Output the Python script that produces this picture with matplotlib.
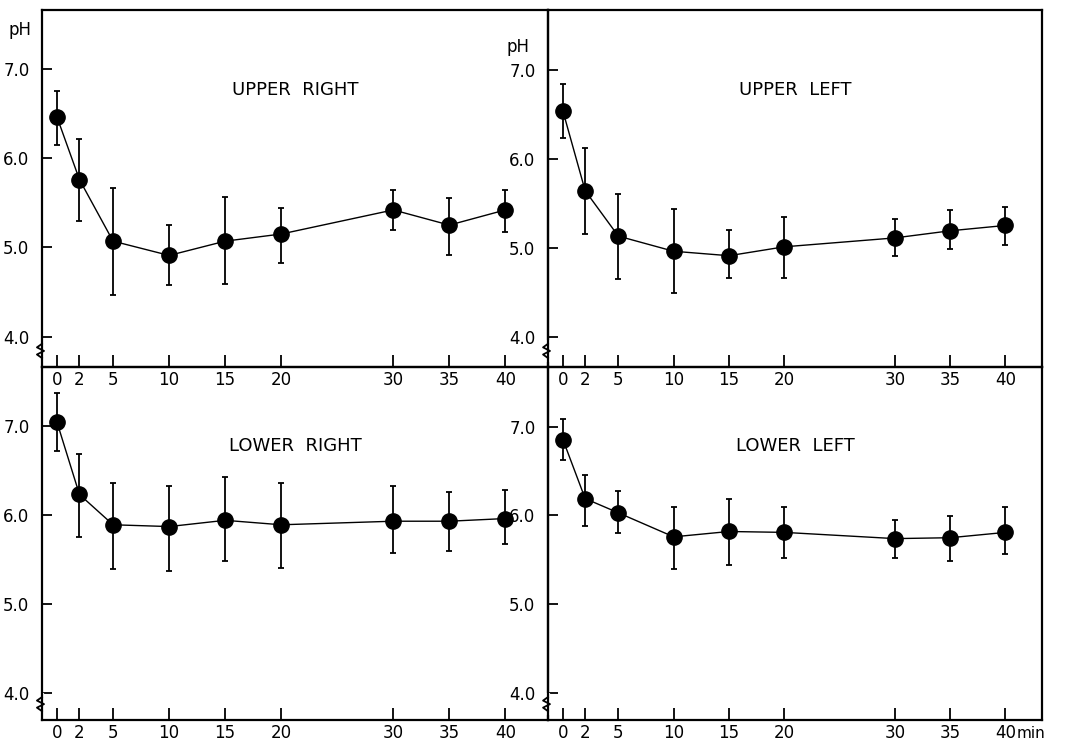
import numpy as np
from matplotlib import pyplot as plt

minutes = [0, 2, 5, 10, 15, 20, 30, 35, 40]

upper_right_ph = [6.46, 5.76, 5.07, 4.91, 5.07, 5.15, 5.42, 5.25, 5.42]
upper_right_hi = [6.75, 6.22, 5.67, 5.25, 5.57, 5.44, 5.64, 5.55, 5.64]
upper_right_lo = [6.15, 5.30, 4.47, 4.58, 4.59, 4.82, 5.20, 4.91, 5.17]

upper_left_ph = [6.53, 5.64, 5.13, 4.96, 4.91, 5.01, 5.11, 5.19, 5.25]
upper_left_hi = [6.84, 6.12, 5.60, 5.43, 5.20, 5.35, 5.32, 5.42, 5.46]
upper_left_lo = [6.23, 5.15, 4.65, 4.49, 4.66, 4.66, 4.91, 4.98, 5.03]

lower_right_ph = [7.04, 6.23, 5.89, 5.87, 5.94, 5.89, 5.93, 5.93, 5.96]
lower_right_hi = [7.37, 6.68, 6.36, 6.33, 6.43, 6.36, 6.33, 6.26, 6.28]
lower_right_lo = [6.72, 5.75, 5.39, 5.37, 5.48, 5.41, 5.57, 5.60, 5.68]

lower_left_ph = [6.85, 6.19, 6.03, 5.76, 5.82, 5.81, 5.74, 5.75, 5.81]
lower_left_hi = [7.09, 6.46, 6.27, 6.09, 6.19, 6.10, 5.95, 5.99, 6.09]
lower_left_lo = [6.62, 5.88, 5.80, 5.40, 5.44, 5.52, 5.52, 5.49, 5.57]

yticks = [4.0, 5.0, 6.0, 7.0]

W, H = 1074, 747
fig = plt.figure(figsize=(W/100, H/100), dpi=100)

def box(x0, y0, x1, y1):
    return [x0/W, 1-y1/H, (x1-x0)/W, (y1-y0)/H]

panels = [
    (box(42, 10, 548, 367), (-1.34, 43.8), (3.66, 7.66), "UPPER  RIGHT",
     upper_right_ph, upper_right_lo, upper_right_hi),
    (box(548, 10, 1042, 367), (-1.36, 43.3), (3.66, 7.67), "UPPER  LEFT",
     upper_left_ph, upper_left_lo, upper_left_hi),
    (box(42, 367, 548, 720), (-1.34, 43.8), (3.70, 7.66), "LOWER  RIGHT",
     lower_right_ph, lower_right_lo, lower_right_hi),
    (box(548, 367, 1042, 720), (-1.36, 43.3), (3.70, 7.67), "LOWER  LEFT",
     lower_left_ph, lower_left_lo, lower_left_hi),
]

for rect, xl, yl, title, ph, lo, hi in panels:
    ax = fig.add_axes(rect)
    ax.patch.set_visible(False)
    ph = np.array(ph)
    err = [ph - np.array(lo), np.array(hi) - ph]
    ax.errorbar(minutes, ph, yerr=err, fmt='-o', color='black', lw=1.0,
                elinewidth=1.3, capsize=2.5, capthick=1.3, ms=11)
    ax.set_xlim(*xl)
    ax.set_ylim(*yl)
    ax.set_xticks(minutes)
    ax.set_yticks(yticks)
    ax.set_yticklabels(["%.1f" % v for v in yticks])
    ax.tick_params(axis='y', direction='in', length=7, width=1.3, pad=9, labelsize=12)
    ax.tick_params(axis='x', direction='in', length=9, width=1.3, pad=3, labelsize=12)
    for s in ax.spines.values():
        s.set_linewidth(1.6)
    ax.text(0.5, 0.775, title, transform=ax.transAxes, ha='center', va='center', fontsize=13)
    # axis break mark
    zx = [0, -0.010, 0.004, -0.010, 0]
    zy = [0.065, 0.055, 0.045, 0.035, 0.025]
    ax.plot([0, 0], [0.02, 0.07], transform=ax.transAxes, color='white', lw=3, clip_on=False)
    ax.plot(zx, zy, transform=ax.transAxes, color='black', lw=1.3, clip_on=False)

fig.text(20/W, 1-30/H, "pH", ha='center', va='center', fontsize=12)
fig.text(518/W, 1-47/H, "pH", ha='center', va='center', fontsize=12)
fig.text(1017/W, 1-733/H, "min", ha='left', va='center', fontsize=11)

plt.savefig("out.png", dpi=100)
